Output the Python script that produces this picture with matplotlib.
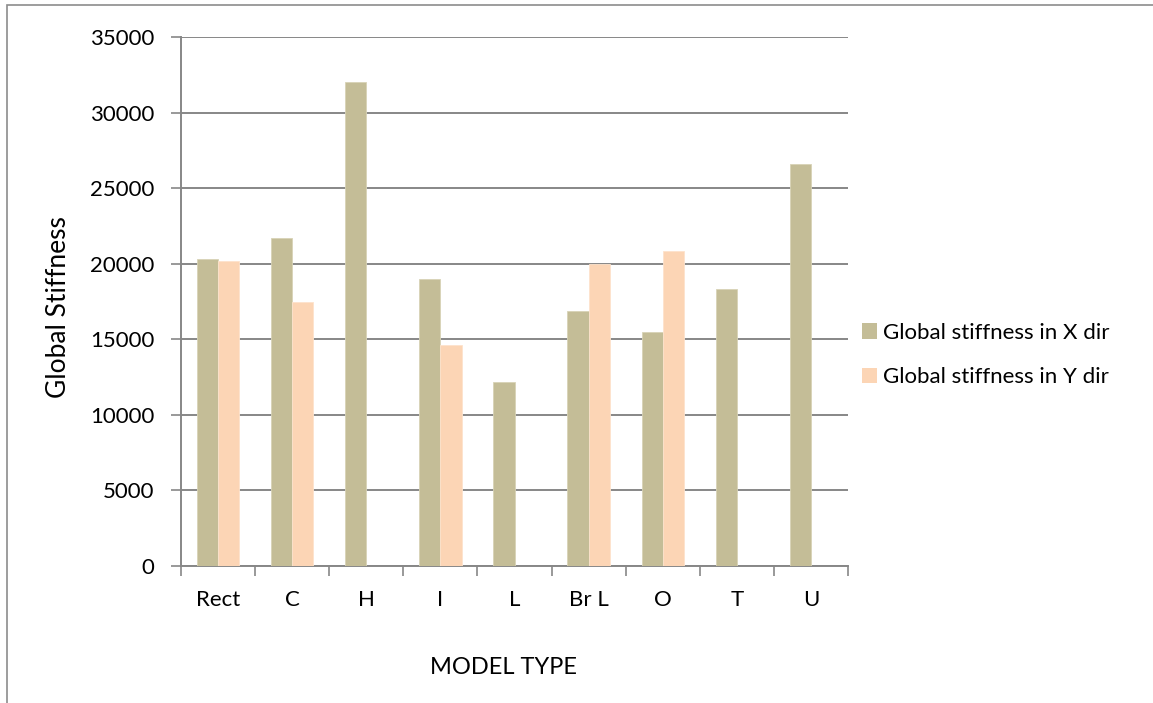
import matplotlib
matplotlib.use("Agg")
import matplotlib.pyplot as plt
import numpy as np
from matplotlib.patches import Rectangle, Patch

# Data
model_types = ["Rect", "C", "H", "I", "L", "Br L", "O", "T", "U"]
stiffness_x = [20300, 21700, 32000, 19000, 12150, 16850, 15450, 18300, 26600]
stiffness_y = [20200, 17450, np.nan, 14600, np.nan, 20000, 20850, np.nan, np.nan]
series_labels = ["Global stiffness in X dir", "Global stiffness in Y dir"]
y_ticks = [0, 5000, 10000, 15000, 20000, 25000, 30000, 35000]

color_x = "#C4BD97"
color_y = "#FCD5B5"
grid_color = "#878787"

plt.rcParams["font.family"] = ["Lato", "DejaVu Sans"]
tick_size = 16
title_size = 17

W, H = 1153, 703
fig = plt.figure(figsize=(W / 100, H / 100), dpi=100)

# chart-area border (left and top edges visible)
fig.patches.append(Rectangle((7 / W, -0.01), 1.2, 1 - 5 / H + 0.01,
                             transform=fig.transFigure, fill=False,
                             edgecolor="#8c8c8c", linewidth=1.2))

left, right, top, bottom = 181, 848, 37, 566
ax = fig.add_axes([left / W, 1 - bottom / H, (right - left) / W, (bottom - top) / H])

n = len(model_types)
x = np.arange(n)
bw = 1 / 3.5
ax.bar(x - bw / 2, stiffness_x, width=bw, color=color_x, edgecolor="#d8d3b6",
       linewidth=0.6, zorder=3)
ax.bar(x + bw / 2, stiffness_y, width=bw, color=color_y, edgecolor="#fde3cc",
       linewidth=0.6, zorder=3)

ax.set_xlim(-0.5, n - 0.5)
ax.set_ylim(0, 35000)

# y axis
ax.set_yticks(y_ticks)
ax.set_yticklabels([str(v) for v in y_ticks])
ax.yaxis.grid(True, color=grid_color, linewidth=1.4, zorder=0)
ax.set_axisbelow(True)

# x axis: ticks at category boundaries, labels centred in categories
ax.set_xticks(np.arange(n + 1) - 0.5)
ax.set_xticklabels([])
ax.set_xticks(x, minor=True)
ax.set_xticklabels(model_types, minor=True)
ax.tick_params(axis="x", which="major", direction="out", length=7,
               color=grid_color, width=1.2)
ax.tick_params(axis="x", which="minor", length=0, pad=17, labelsize=tick_size)
ax.tick_params(axis="y", direction="out", length=7, color=grid_color,
               width=1.2, pad=12, labelsize=tick_size)

for s in ["top", "right"]:
    ax.spines[s].set_visible(False)
for s in ["left", "bottom"]:
    ax.spines[s].set_color(grid_color)
    ax.spines[s].set_linewidth(1.4)

ax.set_xlabel("MODEL TYPE", fontsize=title_size, va="center")
ax.xaxis.set_label_coords((504 - left) / (right - left), (bottom - 667) / (bottom - top))
ax.set_ylabel("Global Stiffness", fontsize=title_size + 2, va="center")
ax.yaxis.set_label_coords((58 - left) / (right - left), 0.49)

handles = [Patch(facecolor=color_x, edgecolor="none"),
           Patch(facecolor=color_y, edgecolor="none")]
fig.legend(handles, series_labels, loc="center left",
           bbox_to_anchor=(862 / W, 1 - 355 / H), frameon=False,
           fontsize=tick_size, handlelength=0.68, handleheight=0.68,
           handletextpad=0.27, labelspacing=1.1, borderpad=0, borderaxespad=0)

fig.savefig("out.png", dpi=100)
